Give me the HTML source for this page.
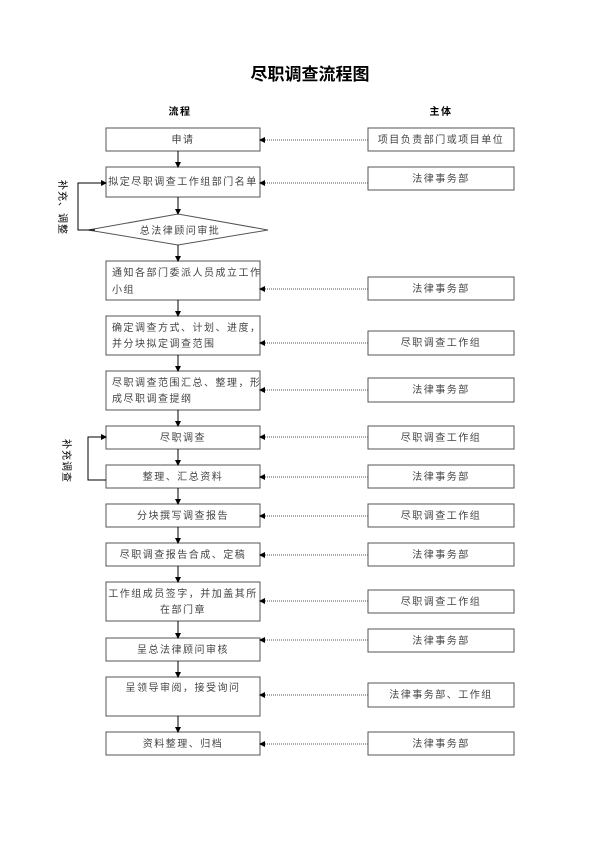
<!DOCTYPE html>
<html><head><meta charset="utf-8"><style>
html,body{margin:0;padding:0;background:#fff;}
svg text{font-family:"Liberation Sans","Noto Sans CJK SC",sans-serif;fill:#444;font-size:10px;letter-spacing:1.5px;}
</style></head><body>
<svg width="600" height="848" viewBox="0 0 600 848" xmlns="http://www.w3.org/2000/svg">
<defs>
<marker id="a" markerWidth="6" markerHeight="6" refX="5" refY="3" orient="auto" markerUnits="userSpaceOnUse"><path d="M0,0 L6,3 L0,6z" fill="#000"/></marker>
</defs>
<text x="310" y="80" text-anchor="middle" style="font-size:17px;font-weight:bold;fill:#000;letter-spacing:0">尽职调查流程图</text>
<text x="180" y="115" text-anchor="middle" style="font-weight:bold;fill:#000">流程</text>
<text x="441" y="115" text-anchor="middle" style="font-weight:bold;fill:#000">主体</text>
<g fill="none" stroke="#555" stroke-width="1">
<rect x="106" y="128" width="154" height="23"/>
<rect x="106" y="167" width="154" height="30"/>
<polygon points="88,230 178,214 268,230 178,245"/>
<rect x="106" y="261" width="154" height="39"/>
<rect x="106" y="316" width="154" height="39"/>
<rect x="106" y="371" width="154" height="39"/>
<rect x="106" y="426" width="154" height="23"/>
<rect x="106" y="465" width="154" height="23"/>
<rect x="106" y="504" width="154" height="23"/>
<rect x="106" y="543" width="154" height="23"/>
<rect x="106" y="582" width="154" height="39"/>
<rect x="106" y="638" width="154" height="23"/>
<rect x="106" y="677" width="154" height="39"/>
<rect x="106" y="732" width="154" height="23"/>
<rect x="368" y="128" width="146" height="23"/>
<rect x="368" y="167" width="146" height="23"/>
<rect x="368" y="277" width="146" height="23"/>
<rect x="368" y="331" width="146" height="24"/>
<rect x="368" y="378" width="146" height="24"/>
<rect x="368" y="426" width="146" height="23"/>
<rect x="368" y="465" width="146" height="23"/>
<rect x="368" y="504" width="146" height="23"/>
<rect x="368" y="543" width="146" height="23"/>
<rect x="368" y="590" width="146" height="23"/>
<rect x="368" y="629" width="146" height="23"/>
<rect x="368" y="683" width="146" height="24"/>
<rect x="368" y="732" width="146" height="23"/>
</g>
<g stroke="#000" stroke-width="1" fill="none" marker-end="url(#a)">
<line x1="178" y1="151" x2="178" y2="167"/>
<line x1="178" y1="197" x2="178" y2="214"/>
<line x1="178" y1="245" x2="178" y2="261"/>
<line x1="178" y1="300" x2="178" y2="316"/>
<line x1="178" y1="355" x2="178" y2="371"/>
<line x1="178" y1="410" x2="178" y2="426"/>
<line x1="178" y1="449" x2="178" y2="465"/>
<line x1="178" y1="488" x2="178" y2="504"/>
<line x1="178" y1="527" x2="178" y2="543"/>
<line x1="178" y1="566" x2="178" y2="582"/>
<line x1="178" y1="621" x2="178" y2="638"/>
<line x1="178" y1="661" x2="178" y2="677"/>
<line x1="178" y1="716" x2="178" y2="732"/>
<polyline points="95,230 78,230 78,183 106,183"/>
<polyline points="106,480 88,480 88,437 106,437"/>
</g>
<g stroke="#555" stroke-width="1" stroke-dasharray="1,1" fill="none" marker-end="url(#a)">
<line x1="368" y1="140" x2="260" y2="140"/>
<line x1="368" y1="183" x2="260" y2="183"/>
<line x1="368" y1="289" x2="260" y2="289"/>
<line x1="368" y1="343" x2="260" y2="343"/>
<line x1="368" y1="390" x2="260" y2="390"/>
<line x1="368" y1="437" x2="260" y2="437"/>
<line x1="368" y1="477" x2="260" y2="477"/>
<line x1="368" y1="516" x2="260" y2="516"/>
<line x1="368" y1="555" x2="260" y2="555"/>
<line x1="368" y1="601" x2="260" y2="601"/>
<line x1="368" y1="640" x2="260" y2="640"/>
<line x1="368" y1="695" x2="260" y2="695"/>
<line x1="368" y1="744" x2="260" y2="744"/>
</g>
<g text-anchor="middle">
<text x="183" y="143">申请</text>
<text x="183" y="185">拟定尽职调查工作组部门名单</text>
<text x="180" y="234">总法律顾问审批</text>
<text x="112" y="276" text-anchor="start">通知各部门委派人员成立工作</text>
<text x="112" y="293" text-anchor="start">小组</text>
<text x="112" y="331" text-anchor="start">确定调查方式、计划、进度，</text>
<text x="112" y="347" text-anchor="start">并分块拟定调查范围</text>
<text x="112" y="386" text-anchor="start">尽职调查范围汇总、整理，形</text>
<text x="112" y="402" text-anchor="start">成尽职调查提纲</text>
<text x="183" y="441">尽职调查</text>
<text x="183" y="480">整理、汇总资料</text>
<text x="183" y="519">分块撰写调查报告</text>
<text x="183" y="558">尽职调查报告合成、定稿</text>
<text x="183" y="597">工作组成员签字，并加盖其所</text>
<text x="183" y="613">在部门章</text>
<text x="183" y="653">呈总法律顾问审核</text>
<text x="183" y="691">呈领导审阅，接受询问</text>
<text x="183" y="747">资料整理、归档</text>
<text x="441" y="143">项目负责部门或项目单位</text>
<text x="441" y="182">法律事务部</text>
<text x="441" y="292">法律事务部</text>
<text x="441" y="346">尽职调查工作组</text>
<text x="441" y="393">法律事务部</text>
<text x="441" y="441">尽职调查工作组</text>
<text x="441" y="480">法律事务部</text>
<text x="441" y="519">尽职调查工作组</text>
<text x="441" y="558">法律事务部</text>
<text x="441" y="605">尽职调查工作组</text>
<text x="441" y="644">法律事务部</text>
<text x="441" y="698">法律事务部、工作组</text>
<text x="441" y="747">法律事务部</text>
</g>
<text transform="translate(59,180) rotate(90)" style="fill:#000;letter-spacing:1px">补充、调整</text>
<text transform="translate(63,439) rotate(90)" style="fill:#000;letter-spacing:1px">补充调查</text>
</svg>
</body></html>
